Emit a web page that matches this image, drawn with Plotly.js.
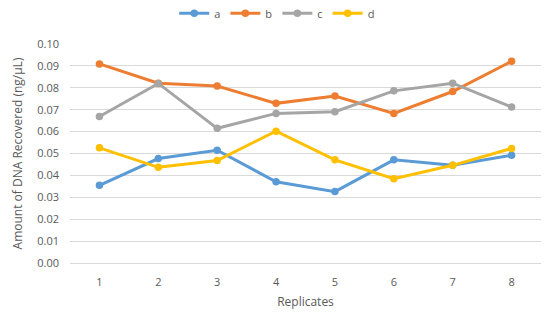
<!DOCTYPE html>
<html>
<head>
<meta charset="utf-8">
<script src="https://cdn.plot.ly/plotly-3.0.1.min.js"></script>
<style>html,body{margin:0;padding:0;background:#fff;}#chart{width:547px;height:314px;}</style>
</head>
<body>
<div id="chart"></div>
<script>
// Replicate labels on the x axis
const replicates = ["1", "2", "3", "4", "5", "6", "7", "8"];

// DNA recovered (ng/µL) per replicate, one array per series
const seriesA = [0.0355, 0.0477, 0.0515, 0.0371, 0.0326, 0.0471, 0.0446, 0.0492];
const seriesB = [0.0909, 0.0821, 0.0808, 0.0729, 0.0762, 0.0683, 0.0783, 0.0921];
const seriesC = [0.0669, 0.0820, 0.0615, 0.0683, 0.0691, 0.0786, 0.0821, 0.0712];
const seriesD = [0.0526, 0.0437, 0.0468, 0.0602, 0.0471, 0.0385, 0.0446, 0.0523];

const seriesNames = ["a", "b", "c", "d"];
const seriesColors = ["#5B9BD5", "#ED7D31", "#A5A5A5", "#FFC000"];
const seriesValues = [seriesA, seriesB, seriesC, seriesD];

const traces = seriesValues.map((vals, i) => ({
  type: "scatter",
  mode: "lines+markers",
  name: seriesNames[i],
  x: replicates,
  y: vals,
  line: {color: seriesColors[i], width: 3},
  marker: {color: seriesColors[i], size: 7.5}
}));

const layout = {
  width: 547,
  height: 314,
  margin: {l: 70, r: 6, t: 44, b: 51, autoexpand: false},
  paper_bgcolor: "#ffffff",
  plot_bgcolor: "#ffffff",
  font: {family: "Open Sans, Liberation Sans, sans-serif", size: 11, color: "#595959"},
  showlegend: true,
  legend: {
    orientation: "h",
    x: 0.44, xanchor: "center",
    y: 1.14, yanchor: "middle",
    font: {size: 11, color: "#595959"},
    itemwidth: 30,
    tracegroupgap: 0
  },
  xaxis: {
    type: "category",
    range: [-0.5, 7.5],
    showgrid: false,
    zeroline: false,
    showline: false,
    ticks: "",
    ticklabelstandoff: 11,
    tickfont: {size: 11, color: "#595959"},
    title: {text: "Replicates", font: {size: 12, color: "#595959"}, standoff: 9}
  },
  yaxis: {
    range: [0, 0.1],
    dtick: 0.01,
    tickformat: ".2f",
    showgrid: true,
    gridcolor: "#D9D9D9",
    gridwidth: 1,
    zeroline: true,
    zerolinecolor: "#D9D9D9",
    showline: false,
    ticks: "",
    ticklabelstandoff: 10,
    tickfont: {size: 11, color: "#595959"},
    title: {text: "Amount of DNA Recovered (ng/µL)", font: {size: 12, color: "#595959"}, standoff: 12}
  }
};

Plotly.newPlot("chart", traces, layout, {displayModeBar: false, staticPlot: true});
</script>
</body>
</html>
